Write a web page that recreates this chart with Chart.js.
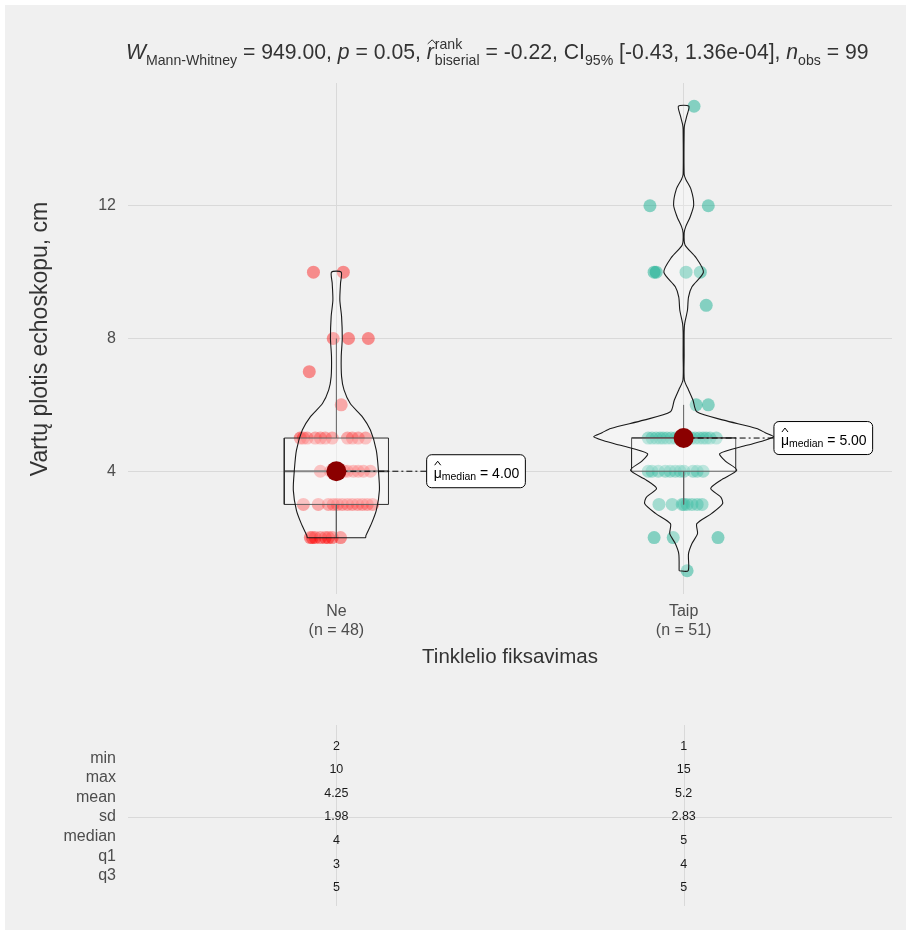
<!DOCTYPE html>
<html>
<head>
<meta charset="utf-8">
<script src="https://cdn.jsdelivr.net/npm/chart.js@4.4.1/dist/chart.umd.min.js"></script>
<style>
  html, body { margin: 0; padding: 0; background: #ffffff; }
  #wrap { width: 911px; height: 934px; }
</style>
</head>
<body>
<div id="wrap"><canvas id="chart" width="911" height="934"></canvas></div>
<script>
// ---- groups ----
const categories = ['Ne', 'Taip'];
const groupSizes = [48, 51];

// ---- observations (value + horizontal jitter in category units) ----
const neValues = [
  10, 10,
  8, 8, 8,
  7,
  6,
  5, 5, 5, 5, 5, 5, 5, 5, 5, 5, 5,
  4, 4, 4, 4, 4, 4, 4, 4, 4, 4,
  3, 3, 3, 3, 3, 3, 3, 3, 3, 3, 3, 3,
  2, 2, 2, 2, 2, 2, 2, 2
];
const neJitter = [
  -0.066, 0.020,
  -0.009, 0.035, 0.092,
  -0.078,
  0.014,
  -0.104, -0.095, -0.084, -0.061, -0.046, -0.032, -0.012, 0.032, 0.046, 0.063, 0.084,
  -0.046, -0.017, 0.000, 0.012, 0.023, 0.032, 0.049, 0.063, 0.078, 0.098,
  -0.095, -0.052, -0.023, -0.009, 0.003, 0.017, 0.032, 0.046, 0.061, 0.075, 0.089, 0.104,
  -0.075, -0.069, -0.061, -0.046, -0.032, -0.023, -0.012, 0.012
];
const taipValues = [
  15,
  12, 12,
  10, 10, 10, 10,
  9,
  6, 6,
  5, 5, 5, 5, 5, 5, 5, 5, 5, 5, 5, 5, 5, 5, 5, 5, 5, 5,
  4, 4, 4, 4, 4, 4, 4, 4, 4, 4, 4,
  3, 3, 3, 3, 3, 3, 3, 3,
  2, 2, 2,
  1
];
const taipJitter = [
  0.030,
  -0.097, 0.071,
  -0.085, -0.079, 0.007, 0.048,
  0.065,
  0.036, 0.071,
  -0.102, -0.091, -0.079, -0.068, -0.059, -0.048, -0.036, -0.024, -0.013, 0.000, 0.010, 0.022, 0.033, 0.045, 0.056, 0.065, 0.076, 0.094,
  -0.102, -0.091, -0.073, -0.053, -0.039, -0.024, -0.010, 0.001, 0.027, 0.039, 0.056,
  -0.071, -0.033, -0.004, 0.001, 0.010, 0.024, 0.039, 0.053,
  -0.085, -0.030, 0.099,
  0.010
];

// ---- violin profiles: level and half-width (category units) ----
const neViolinLevels = [2.0, 2.06, 2.42, 2.82, 3.43, 4.03, 4.63, 5.24, 5.64, 6.04, 6.45, 6.85, 7.45, 8.0, 8.66, 9.16, 9.67, 10.0];
const neViolinWidth  = [0.084, 0.085, 0.101, 0.115, 0.124, 0.121, 0.115, 0.098, 0.075, 0.040, 0.022, 0.015, 0.014, 0.017, 0.015, 0.010, 0.012, 0.014];
const taipViolinLevels = [1.0, 1.51, 1.82, 2.12, 2.42, 2.73, 3.02, 3.22, 3.48, 3.73, 4.03, 4.3, 4.53, 4.78, 4.92, 5.04, 5.16, 5.29, 5.54, 5.79, 6.14, 6.45, 6.75, 7.5, 8.2, 8.45, 8.85, 9.25, 9.56, 10.0, 10.46, 10.82, 11.18, 11.37, 11.67, 12.03, 12.5, 12.8, 12.95, 14.3, 14.45, 14.7, 15.0];
const taipViolinWidth  = [0.013, 0.014, 0.024, 0.040, 0.038, 0.081, 0.112, 0.107, 0.078, 0.107, 0.153, 0.121, 0.104, 0.182, 0.230, 0.259, 0.235, 0.210, 0.115, 0.038, 0.027, 0.014, 0.002, 0.0015, 0.0015, 0.003, 0.011, 0.014, 0.024, 0.057, 0.034, 0.004, 0.0015, 0.006, 0.019, 0.029, 0.021, 0.006, 0.0015, 0.0015, 0.003, 0.009, 0.015];

// ---- descriptive statistics per group ----
const statMin    = [2, 1];
const statMax    = [10, 15];
const statMean   = [4.25, 5.2];
const statSd     = [1.98, 2.83];
const statMedian = [4, 5];
const statQ1     = [3, 4];
const statQ3     = [5, 5];
const statRowLabels = ['min', 'max', 'mean', 'sd', 'median', 'q1', 'q3'];

// ---- test results ----
const testW = 949.00;
const testP = 0.05;
const effectR = -0.22;
const ciLow = -0.43;
const ciHighText = '1.36e-04';
const nObs = 99;

// ---- axis ----
const yTicks = [4, 8, 12];
const yAxisTitle = 'Vartų plotis echoskopu, cm';
const xAxisTitle = 'Tinklelio fiksavimas';

const FONT = '"Liberation Sans", Arial, sans-serif';
const BOX_HALF = 0.15;
const LABEL_SHIFT = 0.26;

function violinOutline(center, levels, widths) {
  const pts = [];
  for (let i = 0; i < levels.length; i++) pts.push({ x: center - widths[i], y: levels[i] });
  for (let i = levels.length - 1; i >= 0; i--) pts.push({ x: center + widths[i], y: levels[i] });
  pts.push({ x: center - widths[0], y: levels[0] });
  return pts;
}
function boxOutline(center, q1, q3) {
  return [
    { x: center - BOX_HALF, y: q1 }, { x: center + BOX_HALF, y: q1 },
    { x: center + BOX_HALF, y: q3 }, { x: center - BOX_HALF, y: q3 },
    { x: center - BOX_HALF, y: q1 }
  ];
}
function whiskerEnds(values, q1, q3) {
  const iqr = q3 - q1;
  const inside = values.filter(v => v >= q1 - 1.5 * iqr && v <= q3 + 1.5 * iqr);
  return [Math.min(...inside), Math.max(...inside)];
}

const groupValues = [neValues, taipValues];
const groupJitter = [neJitter, taipJitter];
const pointColors = ['rgba(255,0,0,0.42)', 'rgba(0,168,136,0.45)'];
const violins = [[neViolinLevels, neViolinWidth], [taipViolinLevels, taipViolinWidth]];

const datasets = [];
categories.forEach((cat, g) => {
  const c = g + 1;
  datasets.push({
    type: 'scatter', label: cat + ' points', order: 6,
    data: groupValues[g].map((v, i) => ({ x: c + groupJitter[g][i], y: v })),
    backgroundColor: pointColors[g], borderWidth: 0, pointRadius: 6.5
  });
  datasets.push({
    type: 'line', label: cat + ' violin', order: 4,
    data: violinOutline(c, violins[g][0], violins[g][1]),
    borderColor: '#1a1a1a', borderWidth: 1.1, pointRadius: 0, tension: 0.25,
    fill: 'shape', backgroundColor: 'rgba(255,255,255,0.25)'
  });
  datasets.push({
    type: 'line', label: cat + ' box', order: 5,
    data: boxOutline(c, statQ1[g], statQ3[g]),
    borderColor: '#2b2b2b', borderWidth: 1, pointRadius: 0, tension: 0,
    fill: 'shape', backgroundColor: 'rgba(255,255,255,0.3)'
  });
  const [lo, hi] = whiskerEnds(groupValues[g], statQ1[g], statQ3[g]);
  datasets.push({
    type: 'line', label: cat + ' upper whisker', order: 5,
    data: [{ x: c, y: statQ3[g] }, { x: c, y: hi }],
    borderColor: '#2b2b2b', borderWidth: 1, pointRadius: 0
  });
  datasets.push({
    type: 'line', label: cat + ' lower whisker', order: 5,
    data: [{ x: c, y: statQ1[g] }, { x: c, y: lo }],
    borderColor: '#2b2b2b', borderWidth: 1, pointRadius: 0
  });
  datasets.push({
    type: 'line', label: cat + ' median line', order: 5,
    data: [{ x: c - BOX_HALF, y: statMedian[g] }, { x: c + BOX_HALF, y: statMedian[g] }],
    borderColor: '#1a1a1a', borderWidth: 2, pointRadius: 0
  });
  datasets.push({
    type: 'line', label: cat + ' label connector', order: 2,
    data: [{ x: c, y: statMedian[g] }, { x: c + LABEL_SHIFT, y: statMedian[g] }],
    borderColor: '#000', borderWidth: 1, pointRadius: 0, borderDash: [6, 3, 2, 3]
  });
});
datasets.push({
  type: 'scatter', label: 'median', order: 1,
  data: statMedian.map((m, g) => ({ x: g + 1, y: m })),
  backgroundColor: '#8b0000', borderWidth: 0, pointRadius: 10
});

function roundRect(ctx, x, y, w, h, r) {
  ctx.beginPath();
  ctx.moveTo(x + r, y);
  ctx.lineTo(x + w - r, y); ctx.arcTo(x + w, y, x + w, y + r, r);
  ctx.lineTo(x + w, y + h - r); ctx.arcTo(x + w, y + h, x + w - r, y + h, r);
  ctx.lineTo(x + r, y + h); ctx.arcTo(x, y + h, x, y + h - r, r);
  ctx.lineTo(x, y + r); ctx.arcTo(x, y, x + r, y, r);
  ctx.closePath();
}

function drawMedianLabel(ctx, x, cy, valueText) {
  const big = '14px ' + FONT, small = '10.5px ' + FONT;
  ctx.font = big;
  const muW = ctx.measureText('μ').width;
  const restW = ctx.measureText(' = ' + valueText).width;
  ctx.font = small;
  const subW = ctx.measureText('median').width;
  const w = 7 + muW + subW + restW + 6, h = 33;
  ctx.save();
  roundRect(ctx, x, cy - h / 2, w, h, 5);
  ctx.fillStyle = '#ffffff'; ctx.fill();
  ctx.strokeStyle = '#000'; ctx.lineWidth = 1; ctx.stroke();
  ctx.fillStyle = '#000';
  ctx.textBaseline = 'alphabetic'; ctx.textAlign = 'left';
  let tx = x + 7;
  ctx.font = big;
  ctx.fillText('μ', tx, cy + 7);
  // hat above mu
  ctx.beginPath();
  ctx.moveTo(tx + 1, cy - 6); ctx.lineTo(tx + muW / 2, cy - 10); ctx.lineTo(tx + muW - 1, cy - 6);
  ctx.lineWidth = 1; ctx.stroke();
  tx += muW;
  ctx.font = small;
  ctx.fillText('median', tx, cy + 9);
  tx += subW;
  ctx.font = big;
  ctx.fillText(' = ' + valueText, tx, cy + 7);
  ctx.restore();
}

function drawTitle(ctx, x0, baseline, targetWidth) {
  const L = 21, S = 14;
  const parts = [
    { t: 'W', it: true, s: L },
    { t: 'Mann-Whitney', s: S, dy: 6 },
    { t: ' = ' + testW.toFixed(2) + ', ', s: L },
    { t: 'p', it: true, s: L },
    { t: ' = ' + testP.toFixed(2) + ', ', s: L },
    { t: 'r', it: true, s: L, hat: true },
    { stack: ['rank', 'biserial'], s: S },
    { t: ' = ' + effectR.toFixed(2) + ', CI', s: L },
    { t: '95%', s: S, dy: 6 },
    { t: ' [' + ciLow.toFixed(2) + ', ' + ciHighText + '], ', s: L },
    { t: 'n', it: true, s: L },
    { t: 'obs', s: S, dy: 6 },
    { t: ' = ' + nObs, s: L }
  ];
  const fontOf = (p, k) => (p.it ? 'italic ' : '') + (p.s * k) + 'px ' + FONT;
  const measure = k => parts.reduce((acc, p) => {
    ctx.font = fontOf(p, k);
    if (p.stack) return acc + Math.max(...p.stack.map(s => ctx.measureText(s).width)) + 1;
    return acc + ctx.measureText(p.t).width;
  }, 0);
  const k = targetWidth / measure(1);
  ctx.save();
  ctx.fillStyle = '#333333';
  ctx.strokeStyle = '#333333';
  ctx.textAlign = 'left'; ctx.textBaseline = 'alphabetic';
  let x = x0;
  parts.forEach(p => {
    ctx.font = fontOf(p, k);
    if (p.stack) {
      ctx.fillText(p.stack[0], x + 1, baseline - 10 * k);
      ctx.fillText(p.stack[1], x + 1, baseline + 6 * k);
      x += Math.max(...p.stack.map(s => ctx.measureText(s).width)) + 1;
      return;
    }
    ctx.fillText(p.t, x, baseline + (p.dy || 0) * k);
    const w = ctx.measureText(p.t).width;
    if (p.hat) {
      ctx.beginPath();
      ctx.moveTo(x + 1, baseline - 15 * k);
      ctx.lineTo(x + w / 2 + 2, baseline - 19 * k);
      ctx.lineTo(x + w + 2, baseline - 15 * k);
      ctx.lineWidth = 1; ctx.stroke();
    }
    x += w;
  });
  ctx.restore();
}

const decorPlugin = {
  id: 'decor',
  beforeDraw(chart) {
    const ctx = chart.ctx;
    ctx.save();
    ctx.fillStyle = '#ffffff';
    ctx.fillRect(0, 0, chart.width, chart.height);
    ctx.fillStyle = '#f0f0f0';
    ctx.fillRect(5, 5, 901, 925);
    ctx.restore();
  },
  afterDatasetsDraw(chart) {
    const ctx = chart.ctx;
    const xs = chart.scales.x, ys = chart.scales.y;
    statMedian.forEach((m, g) => {
      drawMedianLabel(ctx, xs.getPixelForValue(g + 1 + LABEL_SHIFT), ys.getPixelForValue(m), m.toFixed(2));
    });
  },
  afterDraw(chart) {
    const ctx = chart.ctx;
    const area = chart.chartArea;
    const xs = chart.scales.x;
    // title
    drawTitle(ctx, area.left - 2, 59, 743);
    ctx.save();
    // y axis title
    ctx.fillStyle = '#333333';
    ctx.font = '23px ' + FONT;
    ctx.textAlign = 'center'; ctx.textBaseline = 'middle';
    ctx.translate(41, 339);
    ctx.rotate(-Math.PI / 2);
    ctx.fillText(yAxisTitle, 0, 0);
    ctx.restore();
    // x axis title
    ctx.save();
    ctx.fillStyle = '#333333';
    ctx.font = '20.5px ' + FONT;
    ctx.textAlign = 'center'; ctx.textBaseline = 'middle';
    ctx.fillText(xAxisTitle, (area.left + area.right) / 2, 657);
    ctx.restore();

    // summary table
    const tableTop = 725, tableBottom = 906, tableMid = 817;
    ctx.save();
    ctx.strokeStyle = '#d9d9d9'; ctx.lineWidth = 1;
    categories.forEach((c, g) => {
      const px = Math.round(xs.getPixelForValue(g + 1)) + 0.5;
      ctx.beginPath(); ctx.moveTo(px, tableTop); ctx.lineTo(px, tableBottom); ctx.stroke();
    });
    ctx.beginPath(); ctx.moveTo(area.left, tableMid + 0.5); ctx.lineTo(area.right, tableMid + 0.5); ctx.stroke();
    ctx.fillStyle = '#4d4d4d';
    ctx.font = '16px ' + FONT;
    ctx.textAlign = 'right'; ctx.textBaseline = 'middle';
    statRowLabels.forEach((lab, i) => {
      ctx.fillText(lab, 116, tableMid + (i - 3) * 19.6);
    });
    const columns = [statMin, statMax, statMean, statSd, statMedian, statQ1, statQ3];
    ctx.fillStyle = '#1a1a1a';
    ctx.font = '12.5px ' + FONT;
    ctx.textAlign = 'center';
    categories.forEach((c, g) => {
      const px = xs.getPixelForValue(g + 1);
      columns.forEach((col, i) => {
        ctx.fillText(String(col[g]), px, tableMid + (i - 3) * 23.6);
      });
    });
    ctx.restore();
  }
};

new Chart(document.getElementById('chart'), {
  type: 'scatter',
  data: { datasets },
  options: {
    responsive: false,
    animation: false,
    devicePixelRatio: 1,
    layout: { padding: { left: 5, right: 19, top: 83, bottom: 0 } },
    plugins: { legend: { display: false }, tooltip: { enabled: false } },
    scales: {
      x: {
        type: 'linear', min: 0.4, max: 2.6,
        afterBuildTicks: s => { s.ticks = [{ value: 1 }, { value: 2 }]; },
        afterFit: s => { s.height = 340; },
        ticks: {
          callback: v => [categories[v - 1], '(n = ' + groupSizes[v - 1] + ')'],
          font: { family: FONT, size: 16 }, color: '#4d4d4d', padding: 8, maxRotation: 0
        },
        grid: { color: '#d9d9d9', lineWidth: 1, drawTicks: false },
        border: { display: false }
      },
      y: {
        type: 'linear', min: 0.3, max: 15.7,
        afterBuildTicks: s => { s.ticks = yTicks.map(v => ({ value: v })); },
        afterFit: s => { s.width = 123; },
        ticks: { font: { family: FONT, size: 16 }, color: '#4d4d4d', padding: 12 },
        grid: { color: '#d9d9d9', lineWidth: 1, drawTicks: false },
        border: { display: false }
      }
    }
  },
  plugins: [decorPlugin]
});
</script>
</body>
</html>
